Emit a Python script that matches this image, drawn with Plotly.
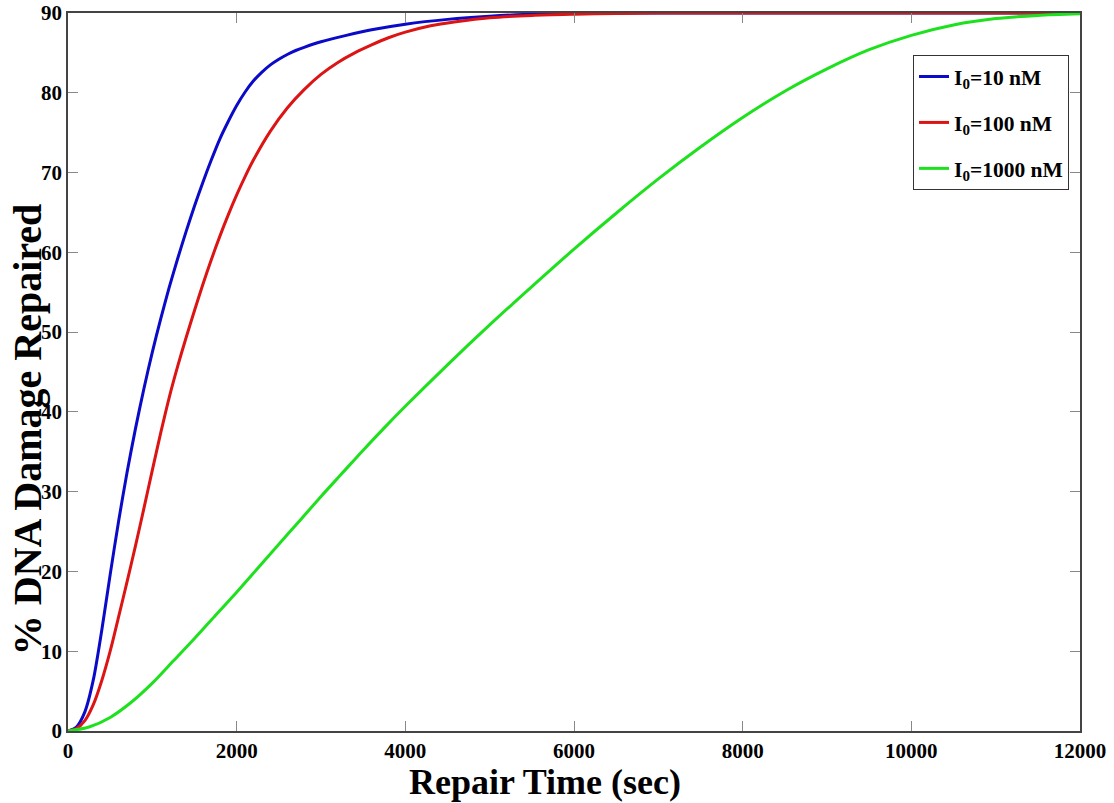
import plotly.graph_objects as go

# ---- data ----
t_blue = [0, 100, 200, 300, 400, 500, 600, 700, 800, 900, 1000, 1100, 1200, 1300, 1400, 1500,
          1600, 1700, 1800, 1900, 2000, 2100, 2200, 2300, 2400, 2500, 2600, 2700, 2800, 3000,
          3300, 3600, 4000, 4500, 5000, 5500, 6000, 7000, 12000]
v_blue = [0, 0.5, 2.4, 6.4, 12.6, 19.6, 26.3, 32.4, 37.9, 42.9, 47.5, 51.7, 55.6, 59.2, 62.6, 65.8,
          68.8, 71.6, 74.2, 76.4, 78.4, 80.1, 81.5, 82.6, 83.5, 84.2, 84.8, 85.3, 85.7, 86.4,
          87.2, 87.9, 88.6, 89.2, 89.6, 89.85, 89.95, 90.0, 90.0]

t_red = [0, 100, 200, 300, 400, 500, 600, 700, 800, 900, 1000, 1100, 1200, 1300, 1400, 1500,
         1600, 1700, 1800, 1900, 2000, 2100, 2200, 2400, 2600, 2800, 3000, 3200, 3400, 3600,
         3800, 4000, 4300, 4600, 5000, 5500, 6000, 6500, 7000, 12000]
v_red = [0, 0.3, 1.3, 3.3, 6.3, 10.0, 14.3, 18.7, 23.2, 27.9, 32.7, 37.4, 41.8, 45.7, 49.3, 52.7,
         56.0, 59.1, 62.0, 64.7, 67.2, 69.5, 71.6, 75.2, 78.1, 80.4, 82.3, 83.8, 85.0, 86.0,
         86.9, 87.6, 88.4, 88.9, 89.4, 89.7, 89.85, 89.95, 90.0, 90.0]

t_green = [0, 250, 500, 750, 1000, 1250, 1500, 1750, 2000, 2250, 2500, 2750, 3000, 3250, 3500,
           3750, 4000, 4500, 5000, 5500, 6000, 6500, 7000, 7500, 8000, 8500, 9000, 9500, 10000,
           10500, 11000, 11500, 12000]
v_green = [0, 0.5, 1.7, 3.6, 6.0, 8.8, 11.6, 14.5, 17.4, 20.4, 23.4, 26.4, 29.4, 32.3, 35.2,
           38.0, 40.7, 45.9, 50.9, 55.7, 60.4, 64.9, 69.2, 73.2, 76.9, 80.2, 83.0, 85.4, 87.2,
           88.5, 89.3, 89.7, 89.9]

names = ["I<sub>0</sub>=10 nM", "I<sub>0</sub>=100 nM", "I<sub>0</sub>=1000 nM"]
colors = ["#0a0ac8", "#dc1414", "#1ee11e"]

x_ticks = [0, 2000, 4000, 6000, 8000, 10000, 12000]
y_ticks = [0, 10, 20, 30, 40, 50, 60, 70, 80, 90]

x_title = "Repair Time (sec)"
y_title = "% DNA Damage Repaired"

FONT = "Liberation Serif"

fig = go.Figure()
for i, (t, v) in enumerate([(t_blue, v_blue), (t_red, v_red), (t_green, v_green)]):
    fig.add_trace(go.Scatter(
        x=t, y=v, mode="lines", name=names[i], legendgroup=f"g{i}",
        line=dict(color=colors[i], width=3, shape="spline", smoothing=0.8),
    ))

axis_common = dict(
    showline=True, mirror="ticks", linecolor="#444444", linewidth=1.5,
    ticks="inside", ticklen=10, tickcolor="#888888", tickwidth=1.2,
    showgrid=False, zeroline=False, automargin=False, ticklabeloverflow="allow",
    tickfont=dict(family=FONT, size=21, color="black", weight="bold"),
)

fig.update_layout(
    width=1114, height=803,
    paper_bgcolor="white", plot_bgcolor="white",
    margin=dict(l=68, r=34, t=13, b=72),
    xaxis=dict(range=[0, 12000], tickvals=x_ticks, ticktext=[str(x) for x in x_ticks],
               **axis_common),
    yaxis=dict(range=[0, 90], tickvals=y_ticks, ticktext=[str(y) for y in y_ticks],
               **axis_common),
    legend=dict(
        x=0.835, y=0.9415, xanchor="left", yanchor="top",
        bgcolor="white", bordercolor="#333333", borderwidth=1,
        font=dict(family=FONT, size=21.5, color="black", weight="bold"),
        itemwidth=30, tracegroupgap=15,
    ),
    showlegend=True,
    annotations=[
        dict(text=f"<b>{x_title}</b>", xref="paper", yref="paper",
             x=0.471, y=-0.071, xanchor="center", yanchor="middle", showarrow=False,
             font=dict(family=FONT, size=36, color="black")),
        dict(text=f"<b>{y_title}</b>", xref="paper", yref="paper", textangle=-90,
             x=-0.0405, y=0.419, xanchor="center", yanchor="middle", showarrow=False,
             font=dict(family=FONT, size=40, color="black")),
    ],
)

# remove the default 8px page margin so the figure sits at the window's top-left corner
fig.write_html("out.html", config={"displayModeBar": False},
               post_script="document.body.style.margin='0px';")
